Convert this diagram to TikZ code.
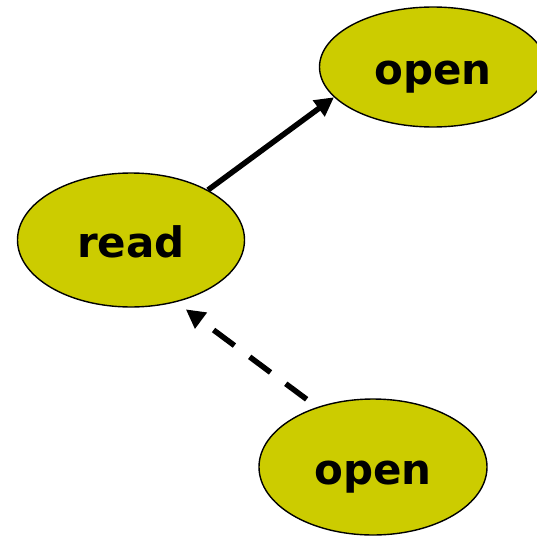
\documentclass[tikz,border=0pt]{standalone}
\usepackage{fontspec}
\setmainfont{DejaVu Sans}
\usetikzlibrary{shapes.geometric,arrows.meta}
\definecolor{olive}{HTML}{CCCC00}
\tikzset{
  state/.style={ellipse, draw=black, line width=1.4pt, fill=olive,
    minimum width=227pt, minimum height=134pt, inner sep=0pt,
    text height=40pt, text depth=6pt,
    font=\fontsize{42}{50}\selectfont\bfseries},
  flow/.style={line width=5.5pt, -{Triangle[length=19pt,width=19pt]}},
  weakflow/.style={flow, dash pattern=on 26pt off 19pt}
}
\begin{document}
\begin{tikzpicture}[x=1pt,y=-1pt]
  \useasboundingbox (0,0) rectangle (537,535);
  \node[state, minimum height=120pt] (top) at (433,67) {open};
  \node[state] (read) at (131,240) {read};
  \node[state, minimum width=228pt, minimum height=136pt] (bottom) at (373,467) {open};
  \draw[flow] (read.33.7) -- (top.197.4);
  \draw[weakflow, shorten <=13pt, shorten >=12pt] (bottom.133.7) -- (read.-54.3);
\end{tikzpicture}
\end{document}
